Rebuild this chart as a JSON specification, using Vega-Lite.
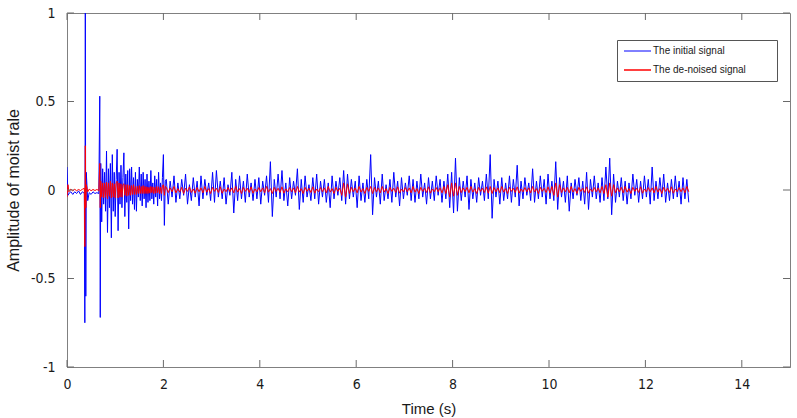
{
  "$schema": "https://vega.github.io/schema/vega-lite/v6.json",
  "width": 723,
  "height": 354,
  "autosize": "none",
  "padding": {"left": 67, "top": 13, "right": 7, "bottom": 51},
  "background": "white",
  "config": {
    "view": {"stroke": "#808080", "strokeWidth": 1},
    "font": "Liberation Sans",
    "axis": {
      "grid": false,
      "ticks": false,
      "domainColor": "#808080",
      "labelColor": "#1a1a1a",
      "titleColor": "#1a1a1a",
      "labelFont": "Liberation Sans Narrow, DejaVu Sans Condensed, Liberation Sans",
      "titleFont": "Liberation Sans",
      "labelFontSize": 14,
      "titleFontSize": 15,
      "titleFontWeight": "normal"
    }
  },
  "layer": [
    {
      "data": {
        "values": [
      {"t":0.00,"b":0.13,"r":-0.04},{"t":0.02,"b":-0.03,"r":0.03},{"t":0.04,"b":-0.02,"r":-0.01},{"t":0.08,"b":-0.01,"r":0.005},
      {"t":0.12,"b":-0.025,"r":-0.005},{"t":0.16,"b":-0.01,"r":0.004},{"t":0.20,"b":-0.02,"r":-0.004},{"t":0.24,"b":-0.005,"r":0.003},
      {"t":0.28,"b":-0.025,"r":-0.003},{"t":0.32,"b":-0.01,"r":0.004},{"t":0.36,"b":-0.02,"r":0.01},{"t":0.37,"b":-0.75,"r":-0.32},
      {"t":0.38,"b":1.05,"r":0.25},{"t":0.39,"b":-0.6,"r":-0.1},{"t":0.40,"b":0.1,"r":0.03},{"t":0.43,"b":-0.06,"r":-0.01},
      {"t":0.46,"b":-0.015,"r":0.005},{"t":0.50,"b":-0.025,"r":-0.004},{"t":0.54,"b":-0.01,"r":0.003},{"t":0.58,"b":-0.02,"r":-0.003},
      {"t":0.62,"b":-0.015,"r":0.003},{"t":0.66,"b":-0.02,"r":-0.003},{"t":0.68,"b":0.53,"r":0.15},{"t":0.69,"b":-0.72,"r":-0.1},
      {"t":0.70,"b":0.15,"r":0.05},{"t":0.72,"b":-0.18,"r":-0.04},{"t":0.74,"b":0.12,"r":0.04},{"t":0.76,"b":-0.08,"r":-0.045},
      {"t":0.78,"b":0.1,"r":0.04},{"t":0.80,"b":-0.12,"r":-0.04},{"t":0.82,"b":0.22,"r":0.045},{"t":0.84,"b":-0.24,"r":-0.05},
      {"t":0.86,"b":0.12,"r":0.04},{"t":0.88,"b":-0.1,"r":-0.035},{"t":0.90,"b":0.15,"r":0.05},{"t":0.92,"b":-0.27,"r":-0.045},
      {"t":0.94,"b":0.2,"r":0.04},{"t":0.96,"b":-0.12,"r":-0.04},{"t":0.98,"b":0.1,"r":0.035},{"t":1.00,"b":-0.15,"r":-0.045},
      {"t":1.02,"b":0.06,"r":0.04},{"t":1.04,"b":0.23,"r":0.05},{"t":1.06,"b":-0.23,"r":-0.045},{"t":1.08,"b":0.1,"r":0.04},
      {"t":1.10,"b":-0.08,"r":-0.04},{"t":1.12,"b":0.14,"r":0.035},{"t":1.14,"b":-0.1,"r":-0.04},{"t":1.16,"b":0.07,"r":0.03},
      {"t":1.18,"b":0.21,"r":0.035},{"t":1.20,"b":-0.15,"r":-0.03},{"t":1.22,"b":0.09,"r":0.03},{"t":1.24,"b":-0.07,"r":-0.035},
      {"t":1.26,"b":0.11,"r":0.03},{"t":1.28,"b":-0.22,"r":-0.03},{"t":1.30,"b":0.12,"r":0.025},{"t":1.32,"b":-0.06,"r":-0.03},
      {"t":1.34,"b":0.13,"r":0.025},{"t":1.36,"b":-0.08,"r":-0.025},{"t":1.38,"b":0.07,"r":0.03},{"t":1.40,"b":-0.11,"r":-0.025},
      {"t":1.42,"b":0.1,"r":0.02},{"t":1.44,"b":-0.12,"r":-0.025},{"t":1.46,"b":0.06,"r":0.02},{"t":1.48,"b":-0.04,"r":-0.02},
      {"t":1.50,"b":0.13,"r":0.025},{"t":1.52,"b":-0.06,"r":-0.02},{"t":1.54,"b":0.09,"r":0.02},{"t":1.56,"b":-0.09,"r":-0.02},
      {"t":1.58,"b":0.1,"r":0.025},{"t":1.60,"b":-0.05,"r":-0.02},{"t":1.62,"b":0.06,"r":0.02},{"t":1.64,"b":-0.1,"r":-0.02},
      {"t":1.66,"b":0.09,"r":0.018},{"t":1.68,"b":-0.07,"r":-0.02},{"t":1.70,"b":0.05,"r":0.015},{"t":1.72,"b":-0.06,"r":-0.018},
      {"t":1.74,"b":0.11,"r":0.02},{"t":1.76,"b":-0.05,"r":-0.015},{"t":1.78,"b":0.04,"r":0.018},{"t":1.80,"b":-0.08,"r":-0.02},
      {"t":1.82,"b":0.08,"r":0.015},{"t":1.84,"b":-0.04,"r":-0.018},{"t":1.86,"b":0.06,"r":0.02},{"t":1.88,"b":-0.09,"r":-0.015},
      {"t":1.90,"b":0.1,"r":0.018},{"t":1.92,"b":-0.05,"r":-0.02},{"t":1.94,"b":0.04,"r":0.015},{"t":1.96,"b":-0.06,"r":-0.02},
      {"t":1.98,"b":0.07,"r":0.025},{"t":2.00,"b":0.2,"r":0.03},{"t":2.02,"b":-0.2,"r":-0.03},{"t":2.04,"b":0.05,"r":0.02},
      {"t":2.06,"b":0.06,"r":0.015},
      {"t":2.10,"b":-0.08,"r":-0.015},{"t":2.14,"b":0.05,"r":0.012},{"t":2.18,"b":-0.04,"r":-0.01},{"t":2.22,"b":0.08,"r":0.02},
      {"t":2.26,"b":-0.07,"r":-0.016},{"t":2.30,"b":0.04,"r":0.008},{"t":2.34,"b":-0.05,"r":-0.012},{"t":2.38,"b":0.06,"r":0.015},
      {"t":2.42,"b":-0.03,"r":-0.02},{"t":2.46,"b":0.09,"r":0.01},{"t":2.50,"b":-0.08,"r":-0.008},{"t":2.54,"b":0.03,"r":0.018},
      {"t":2.58,"b":-0.06,"r":-0.014},{"t":2.62,"b":0.07,"r":0.006},{"t":2.66,"b":-0.04,"r":-0.018},{"t":2.70,"b":0.05,"r":0.014},
      {"t":2.74,"b":-0.09,"r":-0.01},{"t":2.78,"b":0.08,"r":0.012},{"t":2.82,"b":-0.05,"r":-0.016},{"t":2.86,"b":0.06,"r":0.02},
      {"t":2.90,"b":-0.03,"r":-0.012},{"t":2.94,"b":0.04,"r":0.008},{"t":2.98,"b":-0.06,"r":-0.02},{"t":3.02,"b":0.1,"r":0.015},
      {"t":3.06,"b":-0.07,"r":-0.008},{"t":3.10,"b":0.11,"r":0.01},{"t":3.14,"b":-0.04,"r":-0.014},{"t":3.18,"b":0.05,"r":0.018},
      {"t":3.22,"b":-0.05,"r":-0.018},{"t":3.26,"b":0.07,"r":0.006},{"t":3.30,"b":-0.08,"r":-0.01},{"t":3.34,"b":0.03,"r":0.014},
      {"t":3.38,"b":-0.03,"r":-0.01},{"t":3.42,"b":0.1,"r":0.012},{"t":3.46,"b":-0.13,"r":-0.016},{"t":3.50,"b":0.06,"r":0.02},
      {"t":3.54,"b":-0.06,"r":-0.012},{"t":3.58,"b":0.08,"r":0.008},{"t":3.62,"b":-0.05,"r":-0.02},{"t":3.66,"b":0.05,"r":0.015},
      {"t":3.70,"b":-0.07,"r":-0.008},{"t":3.74,"b":0.09,"r":0.01},{"t":3.78,"b":-0.04,"r":-0.014},{"t":3.82,"b":0.04,"r":0.018},
      {"t":3.86,"b":-0.06,"r":-0.018},{"t":3.90,"b":0.06,"r":0.006},{"t":3.94,"b":-0.05,"r":-0.01},{"t":3.98,"b":0.07,"r":0.014},
      {"t":4.02,"b":-0.08,"r":-0.01},{"t":4.06,"b":0.05,"r":0.012},{"t":4.10,"b":-0.03,"r":-0.016},{"t":4.14,"b":0.08,"r":0.02},
      {"t":4.18,"b":-0.07,"r":-0.012},{"t":4.22,"b":0.16,"r":0.008},{"t":4.26,"b":-0.15,"r":-0.02},{"t":4.30,"b":0.06,"r":0.015},
      {"t":4.34,"b":-0.04,"r":-0.008},{"t":4.38,"b":0.09,"r":0.01},{"t":4.42,"b":-0.05,"r":-0.014},{"t":4.46,"b":0.11,"r":0.018},
      {"t":4.50,"b":-0.06,"r":-0.018},{"t":4.54,"b":0.04,"r":0.006},{"t":4.58,"b":-0.09,"r":-0.01},{"t":4.62,"b":0.07,"r":0.014},
      {"t":4.66,"b":-0.05,"r":-0.01},{"t":4.70,"b":0.05,"r":0.012},{"t":4.74,"b":-0.03,"r":-0.016},{"t":4.78,"b":0.12,"r":0.02},
      {"t":4.82,"b":-0.11,"r":-0.012},{"t":4.86,"b":0.06,"r":0.008},{"t":4.90,"b":-0.07,"r":-0.02},{"t":4.94,"b":0.08,"r":0.015},
      {"t":4.98,"b":-0.04,"r":-0.008},{"t":5.02,"b":0.03,"r":0.01},{"t":5.06,"b":-0.06,"r":-0.014},{"t":5.10,"b":0.07,"r":0.018},
      {"t":5.14,"b":-0.05,"r":-0.018},{"t":5.18,"b":0.09,"r":0.006},{"t":5.22,"b":-0.08,"r":-0.01},{"t":5.26,"b":0.05,"r":0.014},
      {"t":5.30,"b":-0.04,"r":-0.01},{"t":5.34,"b":0.06,"r":0.012},{"t":5.38,"b":-0.07,"r":-0.016},{"t":5.42,"b":0.04,"r":0.02},
      {"t":5.46,"b":-0.1,"r":-0.012},{"t":5.50,"b":0.08,"r":0.008},{"t":5.54,"b":-0.05,"r":-0.02},{"t":5.58,"b":0.05,"r":0.015},
      {"t":5.62,"b":-0.03,"r":-0.008},{"t":5.66,"b":0.07,"r":0.01},{"t":5.70,"b":-0.06,"r":-0.03},{"t":5.74,"b":0.11,"r":0.04},
      {"t":5.78,"b":-0.08,"r":-0.04},{"t":5.82,"b":0.09,"r":0.035},{"t":5.86,"b":-0.05,"r":-0.02},{"t":5.90,"b":0.06,"r":0.015},
      {"t":5.94,"b":-0.04,"r":-0.01},{"t":5.98,"b":0.05,"r":0.012},{"t":6.02,"b":-0.1,"r":-0.016},{"t":6.06,"b":0.08,"r":0.02},
      {"t":6.10,"b":-0.06,"r":-0.012},{"t":6.14,"b":0.04,"r":0.008},{"t":6.18,"b":-0.07,"r":-0.02},{"t":6.22,"b":0.06,"r":0.015},
      {"t":6.26,"b":-0.05,"r":-0.008},{"t":6.30,"b":0.2,"r":0.02},{"t":6.34,"b":-0.14,"r":-0.02},{"t":6.38,"b":0.07,"r":0.014},
      {"t":6.42,"b":-0.04,"r":-0.01},{"t":6.46,"b":0.05,"r":0.012},{"t":6.50,"b":-0.08,"r":-0.016},{"t":6.54,"b":0.09,"r":0.02},
      {"t":6.58,"b":-0.06,"r":-0.012},{"t":6.62,"b":0.03,"r":0.008},{"t":6.66,"b":-0.05,"r":-0.02},{"t":6.70,"b":0.06,"r":0.015},
      {"t":6.74,"b":-0.07,"r":-0.008},{"t":6.78,"b":0.1,"r":0.01},{"t":6.82,"b":-0.04,"r":-0.014},{"t":6.86,"b":0.05,"r":0.018},
      {"t":6.90,"b":-0.09,"r":-0.018},{"t":6.94,"b":0.07,"r":0.006},{"t":6.98,"b":-0.05,"r":-0.01},{"t":7.02,"b":0.04,"r":0.014},
      {"t":7.06,"b":-0.03,"r":-0.01},{"t":7.10,"b":0.08,"r":0.012},{"t":7.14,"b":-0.06,"r":-0.016},{"t":7.18,"b":0.06,"r":0.02},
      {"t":7.22,"b":-0.07,"r":-0.012},{"t":7.26,"b":0.05,"r":0.008},{"t":7.30,"b":-0.05,"r":-0.02},{"t":7.34,"b":0.09,"r":0.015},
      {"t":7.38,"b":-0.04,"r":-0.008},{"t":7.42,"b":0.04,"r":0.01},{"t":7.46,"b":-0.08,"r":-0.014},{"t":7.50,"b":0.07,"r":0.018},
      {"t":7.54,"b":-0.05,"r":-0.018},{"t":7.58,"b":0.05,"r":0.006},{"t":7.62,"b":-0.06,"r":-0.01},{"t":7.66,"b":0.08,"r":0.014},
      {"t":7.70,"b":-0.03,"r":-0.01},{"t":7.74,"b":0.06,"r":0.012},{"t":7.78,"b":-0.07,"r":-0.016},{"t":7.82,"b":0.05,"r":0.02},
      {"t":7.86,"b":-0.05,"r":-0.02},{"t":7.90,"b":0.09,"r":0.03},{"t":7.94,"b":-0.1,"r":-0.04},{"t":7.98,"b":0.1,"r":0.04},
      {"t":8.02,"b":-0.13,"r":-0.035},{"t":8.06,"b":0.18,"r":0.04},{"t":8.10,"b":-0.12,"r":-0.03},{"t":8.14,"b":0.07,"r":0.02},
      {"t":8.18,"b":-0.06,"r":-0.015},{"t":8.22,"b":0.05,"r":0.012},{"t":8.26,"b":-0.04,"r":-0.01},{"t":8.30,"b":0.08,"r":0.015},
      {"t":8.34,"b":-0.11,"r":-0.016},{"t":8.38,"b":0.06,"r":0.02},{"t":8.42,"b":-0.05,"r":-0.012},{"t":8.46,"b":0.04,"r":0.008},
      {"t":8.50,"b":-0.07,"r":-0.02},{"t":8.54,"b":0.07,"r":0.015},{"t":8.58,"b":-0.03,"r":-0.008},{"t":8.62,"b":0.05,"r":0.01},
      {"t":8.66,"b":-0.06,"r":-0.014},{"t":8.70,"b":0.09,"r":0.018},{"t":8.74,"b":-0.05,"r":-0.018},{"t":8.78,"b":0.2,"r":0.02},
      {"t":8.82,"b":-0.16,"r":-0.02},{"t":8.86,"b":0.06,"r":0.014},{"t":8.90,"b":-0.04,"r":-0.01},{"t":8.94,"b":0.05,"r":0.012},
      {"t":8.98,"b":-0.08,"r":-0.016},{"t":9.02,"b":0.07,"r":0.02},{"t":9.06,"b":-0.06,"r":-0.012},{"t":9.10,"b":0.04,"r":0.008},
      {"t":9.14,"b":-0.05,"r":-0.02},{"t":9.18,"b":0.08,"r":0.015},{"t":9.22,"b":-0.07,"r":-0.008},{"t":9.26,"b":0.06,"r":0.01},
      {"t":9.30,"b":-0.04,"r":-0.014},{"t":9.34,"b":0.14,"r":0.018},{"t":9.38,"b":-0.09,"r":-0.018},{"t":9.42,"b":0.05,"r":0.006},
      {"t":9.46,"b":-0.05,"r":-0.01},{"t":9.50,"b":0.07,"r":0.014},{"t":9.54,"b":-0.03,"r":-0.01},{"t":9.58,"b":0.04,"r":0.012},
      {"t":9.62,"b":-0.06,"r":-0.016},{"t":9.66,"b":0.12,"r":0.02},{"t":9.70,"b":-0.07,"r":-0.012},{"t":9.74,"b":0.05,"r":0.008},
      {"t":9.78,"b":-0.05,"r":-0.02},{"t":9.82,"b":0.08,"r":0.015},{"t":9.86,"b":-0.04,"r":-0.008},{"t":9.90,"b":0.06,"r":0.01},
      {"t":9.94,"b":-0.08,"r":-0.014},{"t":9.98,"b":0.09,"r":0.018},{"t":10.02,"b":-0.05,"r":-0.018},{"t":10.06,"b":0.05,"r":0.02},
      {"t":10.10,"b":-0.06,"r":-0.03},{"t":10.14,"b":0.16,"r":0.04},{"t":10.18,"b":-0.11,"r":-0.04},{"t":10.22,"b":0.07,"r":0.03},
      {"t":10.26,"b":-0.04,"r":-0.015},{"t":10.30,"b":0.05,"r":0.012},{"t":10.34,"b":-0.07,"r":-0.01},{"t":10.38,"b":0.08,"r":0.015},
      {"t":10.42,"b":-0.12,"r":-0.016},{"t":10.46,"b":0.04,"r":0.02},{"t":10.50,"b":-0.05,"r":-0.012},{"t":10.54,"b":0.06,"r":0.008},
      {"t":10.58,"b":-0.03,"r":-0.02},{"t":10.62,"b":0.07,"r":0.015},{"t":10.66,"b":-0.06,"r":-0.008},{"t":10.70,"b":0.05,"r":0.01},
      {"t":10.74,"b":-0.08,"r":-0.014},{"t":10.78,"b":0.1,"r":0.018},{"t":10.82,"b":-0.11,"r":-0.018},{"t":10.86,"b":0.06,"r":0.006},
      {"t":10.90,"b":-0.04,"r":-0.01},{"t":10.94,"b":0.08,"r":0.014},{"t":10.98,"b":-0.05,"r":-0.01},{"t":11.02,"b":0.04,"r":0.012},
      {"t":11.06,"b":-0.07,"r":-0.016},{"t":11.10,"b":0.07,"r":0.02},{"t":11.14,"b":-0.06,"r":-0.02},{"t":11.18,"b":0.13,"r":0.03},
      {"t":11.22,"b":-0.05,"r":-0.04},{"t":11.26,"b":0.18,"r":0.04},{"t":11.30,"b":-0.14,"r":-0.035},{"t":11.34,"b":0.09,"r":0.03},
      {"t":11.38,"b":-0.07,"r":-0.015},{"t":11.42,"b":0.05,"r":0.012},{"t":11.46,"b":-0.04,"r":-0.01},{"t":11.50,"b":0.07,"r":0.015},
      {"t":11.54,"b":-0.06,"r":-0.016},{"t":11.58,"b":0.05,"r":0.02},{"t":11.62,"b":-0.08,"r":-0.012},{"t":11.66,"b":0.04,"r":0.008},
      {"t":11.70,"b":-0.05,"r":-0.02},{"t":11.74,"b":0.09,"r":0.015},{"t":11.78,"b":-0.03,"r":-0.008},{"t":11.82,"b":0.06,"r":0.01},
      {"t":11.86,"b":-0.07,"r":-0.014},{"t":11.90,"b":0.05,"r":0.018},{"t":11.94,"b":-0.05,"r":-0.018},{"t":11.98,"b":0.08,"r":0.006},
      {"t":12.02,"b":-0.04,"r":-0.01},{"t":12.06,"b":0.06,"r":0.014},{"t":12.10,"b":-0.08,"r":-0.01},{"t":12.14,"b":0.13,"r":0.012},
      {"t":12.18,"b":-0.06,"r":-0.016},{"t":12.22,"b":0.05,"r":0.02},{"t":12.26,"b":-0.05,"r":-0.012},{"t":12.30,"b":0.07,"r":0.008},
      {"t":12.34,"b":-0.04,"r":-0.02},{"t":12.38,"b":0.09,"r":0.015},{"t":12.42,"b":-0.07,"r":-0.008},{"t":12.46,"b":0.04,"r":0.01},
      {"t":12.50,"b":-0.06,"r":-0.014},{"t":12.54,"b":0.06,"r":0.018},{"t":12.58,"b":-0.05,"r":-0.018},{"t":12.62,"b":0.08,"r":0.006},
      {"t":12.66,"b":-0.04,"r":-0.01},{"t":12.70,"b":0.05,"r":0.014},{"t":12.74,"b":-0.08,"r":-0.01},{"t":12.78,"b":0.07,"r":0.012},
      {"t":12.82,"b":-0.05,"r":-0.016},{"t":12.86,"b":0.06,"r":0.02},{"t":12.90,"b":-0.07,"r":-0.01}
        ]
      },
      "transform": [{"fold": ["b", "r"], "as": ["s", "v"]}],
      "mark": {"type": "line", "strokeWidth": 1, "clip": true, "interpolate": "linear"},
      "encoding": {
        "x": {
          "field": "t", "type": "quantitative",
          "scale": {"domain": [0, 15], "nice": false, "zero": false},
          "axis": {"values": [0, 2, 4, 6, 8, 10, 12, 14], "ticks": false, "title": "Time (s)", "labelPadding": 10, "titlePadding": 10, "labelFlush": false}
        },
        "y": {
          "field": "v", "type": "quantitative",
          "scale": {"domain": [-1, 1], "nice": false, "zero": false},
          "axis": {"values": [-1, -0.5, 0, 0.5, 1], "ticks": false, "labelExpr": "datum.value + ''", "title": "Amplitude of moist rale", "titleFontSize": 16, "labelPadding": 12, "titlePadding": 9, "labelFlush": false}
        },
        "strokeWidth": {
          "field": "s", "type": "nominal",
          "scale": {"domain": ["b", "r"], "range": [1, 1.6]},
          "legend": null
        },
        "color": {
          "field": "s", "type": "nominal",
          "scale": {"domain": ["b", "r"], "range": ["#0000ff", "#ff0000"]},
          "legend": {
            "orient": "none", "legendX": 550, "legendY": 27, "title": null,
            "symbolType": "stroke", "symbolSize": 729, "symbolStrokeWidth": 1, "clipHeight": 10,
            "labelFont": "Liberation Sans", "labelFontSize": 10, "labelColor": "#1a1a1a",
            "labelExpr": "(datum.value == 'b' ? 'The initial signal' : 'The de-noised signal') + '\u00a0\u00a0\u00a0\u00a0\u00a0\u00a0\u00a0\u00a0\u00a0\u200b'",
            "strokeColor": "#555555", "fillColor": "white", "padding": 6, "rowPadding": 9, "labelOffset": 1
          }
        }
      }
    },
    {
      "data": {"values": [{"t": 0}, {"t": 2}, {"t": 4}, {"t": 6}, {"t": 8}, {"t": 10}, {"t": 12}, {"t": 14}]},
      "mark": {"type": "rule", "color": "#6a6a6a", "strokeWidth": 1},
      "encoding": {
        "x": {"field": "t", "type": "quantitative"},
        "y": {"datum": -1, "type": "quantitative"},
        "y2": {"datum": -0.9605}
      }
    },
    {
      "data": {"values": [{"t": 0}, {"t": 2}, {"t": 4}, {"t": 6}, {"t": 8}, {"t": 10}, {"t": 12}, {"t": 14}]},
      "mark": {"type": "rule", "color": "#6a6a6a", "strokeWidth": 1},
      "encoding": {
        "x": {"field": "t", "type": "quantitative"},
        "y": {"datum": 1, "type": "quantitative"},
        "y2": {"datum": 0.9605}
      }
    },
    {
      "data": {"values": [{"v": -1}, {"v": -0.5}, {"v": 0}, {"v": 0.5}, {"v": 1}]},
      "mark": {"type": "rule", "color": "#6a6a6a", "strokeWidth": 1},
      "encoding": {
        "y": {"field": "v", "type": "quantitative"},
        "x": {"datum": 0, "type": "quantitative"},
        "x2": {"datum": 0.145}
      }
    },
    {
      "data": {"values": [{"v": -1}, {"v": -0.5}, {"v": 0}, {"v": 0.5}, {"v": 1}]},
      "mark": {"type": "rule", "color": "#6a6a6a", "strokeWidth": 1},
      "encoding": {
        "y": {"field": "v", "type": "quantitative"},
        "x": {"datum": 15, "type": "quantitative"},
        "x2": {"datum": 14.855}
      }
    }
  ]
}
